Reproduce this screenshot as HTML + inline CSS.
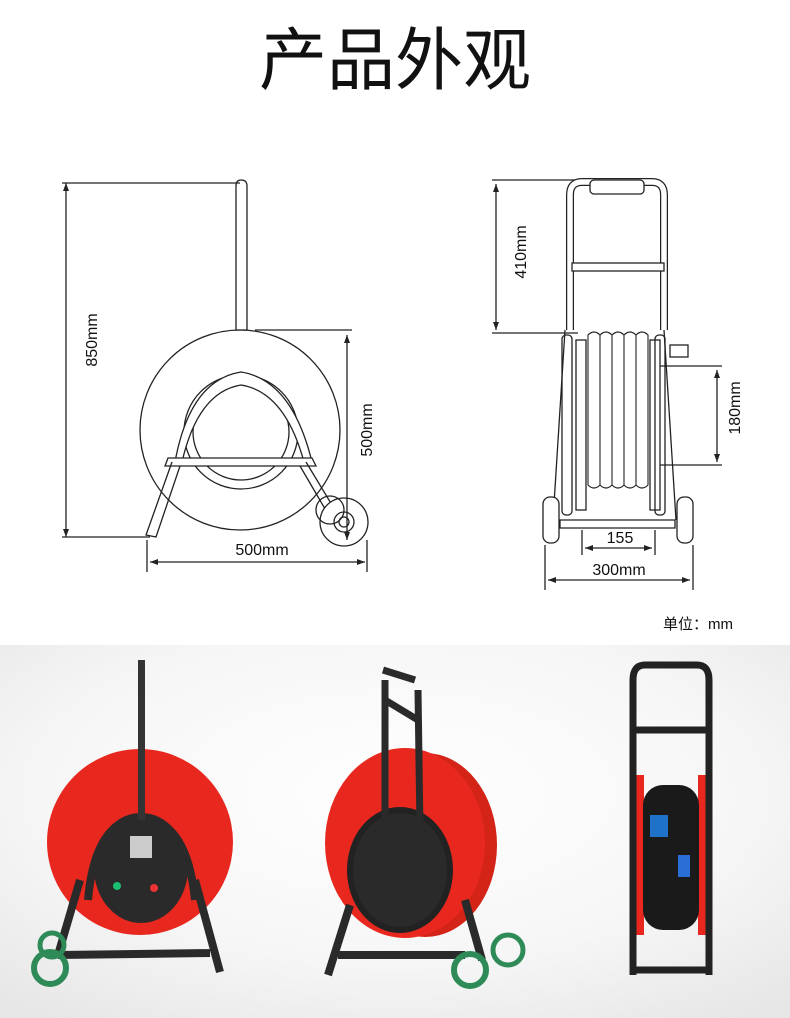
<!DOCTYPE html><html><head><meta charset="utf-8"><style>body{margin:0;width:790px;height:1018px;background:#fff;overflow:hidden}svg{display:block}</style></head><body>
<svg width="790" height="1018" viewBox="0 0 790 1018" xmlns="http://www.w3.org/2000/svg" font-family="Liberation Sans, Noto Sans CJK SC, sans-serif">
<defs><radialGradient id="bg" cx="50%" cy="40%" r="75%"><stop offset="0" stop-color="#fff"/><stop offset="0.6" stop-color="#f6f6f6"/><stop offset="1" stop-color="#e6e6e6"/></radialGradient></defs>
<text x="395" y="84" font-size="68" text-anchor="middle" fill="#111" font-family="Noto Sans CJK SC, sans-serif">产品外观</text>
<g stroke="#222" stroke-width="1.3" fill="none">
<circle cx="240" cy="430" r="100" fill="#fff"/>
<circle cx="241" cy="432" r="57"/>
<circle cx="241" cy="432" r="48"/>
<path d="M236 186 Q236 180 241 180 Q247 180 247 186 L247 330 L236 330 Z" fill="#fff"/>
<path d="M175 462 Q190 380 241 372 Q292 380 312 462 L304 462 Q285 392 241 385 Q198 392 182 462 Z" fill="#fff"/>
<path d="M168 458 L312 458 L316 466 L165 466 Z" fill="#fff"/>
<path d="M172 462 L146 535 L156 537 L180 466"/>
<path d="M306 462 L335 510 L328 514 L300 466"/>
<circle cx="344" cy="522" r="24" fill="#fff"/><circle cx="344" cy="522" r="10"/><circle cx="344" cy="522" r="5"/>
<circle cx="330" cy="510" r="14"/>
<line x1="62" y1="183" x2="240" y2="183"/><line x1="66" y1="183" x2="66" y2="537"/><line x1="62" y1="537" x2="150" y2="537"/>
<line x1="255" y1="330" x2="352" y2="330"/><line x1="347" y1="335" x2="347" y2="540"/>
<line x1="147" y1="540" x2="147" y2="572"/><line x1="367" y1="540" x2="367" y2="572"/><line x1="150" y1="562" x2="365" y2="562"/>
<line x1="492" y1="180" x2="590" y2="180"/><line x1="496" y1="184" x2="496" y2="330"/><line x1="492" y1="333" x2="578" y2="333"/>
<path d="M570 330 L570 195 Q570 182 582 182 L652 182 Q664 182 664 195 L664 330" stroke-width="8" stroke="#222"/>
<path d="M570 330 L570 195 Q570 182 582 182 L652 182 Q664 182 664 195 L664 330" stroke-width="5.5" stroke="#fff"/>
<rect x="590" y="180" width="54" height="14" rx="4" fill="#fff"/>
<rect x="572" y="263" width="92" height="8" fill="#fff"/>
<rect x="562" y="335" width="10" height="180" rx="4" fill="#fff"/>
<rect x="655" y="335" width="10" height="180" rx="4" fill="#fff"/>
<rect x="576" y="340" width="10" height="170"/><rect x="650" y="340" width="10" height="170"/>
<g stroke-width="1.1"><path d="M588 335 q6 -6 12 0 v150 q-6 6 -12 0z M600 335 q6 -6 12 0 v150 q-6 6 -12 0z M612 335 q6 -6 12 0 v150 q-6 6 -12 0z M624 335 q6 -6 12 0 v150 q-6 6 -12 0z M636 335 q6 -6 12 0 v150 q-6 6 -12 0z"/></g>
<rect x="670" y="345" width="18" height="12"/>
<path d="M560 520 L675 520 L675 528 L560 528 Z" fill="#fff"/>
<line x1="565" y1="330" x2="553" y2="520"/><line x1="664" y1="330" x2="676" y2="520"/>
<rect x="543" y="497" width="16" height="46" rx="7" fill="#fff"/><rect x="677" y="497" width="16" height="46" rx="7" fill="#fff"/>
<line x1="660" y1="366" x2="722" y2="366"/><line x1="717" y1="370" x2="717" y2="462"/><line x1="660" y1="465" x2="722" y2="465"/>
<line x1="582" y1="530" x2="582" y2="555"/><line x1="655" y1="530" x2="655" y2="555"/><line x1="585" y1="548" x2="652" y2="548"/>
<line x1="545" y1="545" x2="545" y2="590"/><line x1="693" y1="545" x2="693" y2="590"/><line x1="548" y1="580" x2="690" y2="580"/>
</g>
<g fill="#222">
<path d="M66 183 l-3 8 h6z M66 537 l-3 -8 h6z M347 335 l-3 8 h6z M347 540 l-3 -8 h6z M150 562 l8 -3 v6z M365 562 l-8 -3 v6z M496 184 l-3 8 h6z M496 330 l-3 -8 h6z M717 370 l-3 8 h6z M717 462 l-3 -8 h6z M585 548 l8 -3 v6z M652 548 l-8 -3 v6z M548 580 l8 -3 v6z M690 580 l-8 -3 v6z"/>
</g>
<g font-size="16" fill="#111">
<text transform="translate(97 340) rotate(-90)" text-anchor="middle">850mm</text>
<text transform="translate(372 430) rotate(-90)" text-anchor="middle">500mm</text>
<text x="262" y="555" text-anchor="middle">500mm</text>
<text transform="translate(526 252) rotate(-90)" text-anchor="middle">410mm</text>
<text transform="translate(740 408) rotate(-90)" text-anchor="middle">180mm</text>
<text x="620" y="543" text-anchor="middle">155</text>
<text x="619" y="575" text-anchor="middle">300mm</text>
<text x="698" y="629" text-anchor="middle" font-size="15">单位：mm</text>
</g>
<rect x="0" y="645" width="790" height="373" fill="url(#bg)"/>
<circle cx="140" cy="842" r="93" fill="#e8281e"/>
<ellipse cx="141" cy="868" rx="47" ry="55" fill="#2a2a2a"/>
<path d="M88 900 Q95 820 141 818 Q187 820 195 900" stroke="#2a2a2a" stroke-width="8" fill="none"/>
<rect x="138" y="660" width="7" height="160" fill="#333"/>
<path d="M80 880 L58 955 M195 880 L220 972 M58 955 L210 953" stroke="#2a2a2a" stroke-width="8"/>
<circle cx="50" cy="968" r="16" fill="none" stroke="#2e8b57" stroke-width="6"/><circle cx="52" cy="945" r="12" fill="none" stroke="#2e8b57" stroke-width="5"/>
<circle cx="117" cy="886" r="4" fill="#1dbf73"/><circle cx="154" cy="888" r="4" fill="#e33"/>
<rect x="130" y="836" width="22" height="22" fill="#ccc"/>
<ellipse cx="425" cy="845" rx="72" ry="92" fill="#d42418"/>
<ellipse cx="405" cy="843" rx="80" ry="95" fill="#e8281e"/>
<ellipse cx="400" cy="870" rx="50" ry="60" fill="#2a2a2a" stroke="#222" stroke-width="6"/>
<path d="M385 680 L385 820 M418 690 L420 830 M385 700 L418 720 M383 670 L415 680" stroke="#2a2a2a" stroke-width="7" fill="none"/>
<path d="M350 905 L328 975 M465 900 L482 960 M338 955 L465 955" stroke="#2a2a2a" stroke-width="8"/>
<circle cx="470" cy="970" r="16" fill="none" stroke="#2e8b57" stroke-width="6"/><circle cx="508" cy="950" r="15" fill="none" stroke="#2e8b57" stroke-width="5"/>
<rect x="636" y="775" width="8" height="160" fill="#e8281e"/><rect x="698" y="775" width="8" height="160" fill="#e8281e"/>
<rect x="643" y="785" width="56" height="145" rx="20" fill="#1a1a1a"/>
<rect x="650" y="815" width="18" height="22" fill="#1e73c8"/><rect x="678" y="855" width="12" height="22" fill="#2a6fd6"/>
<path d="M633 975 L633 680 Q633 665 645 665 L697 665 Q709 665 709 680 L709 975 M633 730 L709 730 M633 970 L709 970" stroke="#222" stroke-width="7" fill="none"/>
</svg></body></html>
